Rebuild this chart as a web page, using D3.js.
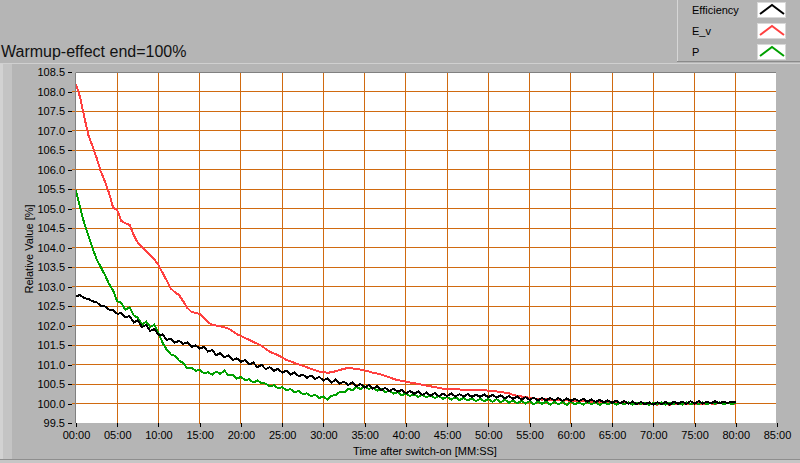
<!doctype html>
<html lang="en">
<head>
<meta charset="utf-8">
<title>Warmup-effect</title>
<script src="https://d3js.org/d3.v7.min.js"></script>
<style>
  body { margin: 0; background: #b5b5b5; }
  svg { display: block; font-family: "Liberation Sans", Arial, sans-serif; }
  .tick text { font-size: 11px; fill: #000; }
</style>
</head>
<body>
<svg class="mainSVG" width="800" height="463"></svg>
<script>
// samples every half minute, 00:00 .. 80:00
var stepMin = 0.5;

var effValues = [
  102.75, 102.78, 102.70, 102.68, 102.62, 102.60, 102.50, 102.49, 102.41, 102.40,
  102.30, 102.32, 102.21, 102.24, 102.08, 102.13, 101.96, 102.01, 101.86, 101.91,
  101.76, 101.77, 101.63, 101.66, 101.56, 101.61, 101.53, 101.57, 101.45, 101.49,
  101.41, 101.45, 101.33, 101.37, 101.24, 101.29, 101.19, 101.23, 101.11, 101.16,
  101.07, 101.11, 101.00, 101.05, 100.93, 100.99, 100.88, 100.93, 100.84, 100.89,
  100.79, 100.84, 100.74, 100.80, 100.70, 100.74, 100.66, 100.72, 100.63, 100.68,
  100.59, 100.65, 100.54, 100.62, 100.51, 100.56, 100.47, 100.54, 100.44, 100.50,
  100.41, 100.47, 100.38, 100.44, 100.34, 100.40, 100.32, 100.38, 100.30, 100.35,
  100.26, 100.32, 100.25, 100.31, 100.22, 100.28, 100.20, 100.27, 100.19, 100.25,
  100.19, 100.26, 100.18, 100.24, 100.18, 100.24, 100.17, 100.23, 100.17, 100.23,
  100.16, 100.22, 100.15, 100.21, 100.13, 100.19, 100.12, 100.18, 100.10, 100.16,
  100.09, 100.15, 100.08, 100.14, 100.08, 100.14, 100.08, 100.14, 100.07, 100.13,
  100.07, 100.12, 100.06, 100.12, 100.05, 100.10, 100.04, 100.09, 100.03, 100.08,
  100.02, 100.07, 100.01, 100.06, 99.99, 100.05, 99.98, 100.04, 99.98, 100.03,
  99.97, 100.03, 99.98, 100.04, 99.97, 100.05, 99.99, 100.05, 99.99, 100.06,
  100.00, 100.06, 100.00, 100.05, 100.00, 100.06, 100.00, 100.05, 100.01, 100.05,
  100.03
];

var evValues = [
  108.18, 107.85, 107.35, 106.88, 106.60, 106.30, 105.95, 105.70, 105.40, 105.02,
  104.96, 104.68, 104.62, 104.58, 104.32, 104.12, 104.02, 103.90, 103.80, 103.70,
  103.55, 103.35, 103.15, 102.95, 102.85, 102.78, 102.62, 102.45, 102.35, 102.32,
  102.30, 102.20, 102.08, 102.02, 102.00, 101.98, 101.95, 101.92, 101.85, 101.78,
  101.73, 101.68, 101.63, 101.58, 101.53, 101.48, 101.40, 101.33, 101.28, 101.24,
  101.18, 101.12, 101.08, 101.04, 101.00, 100.97, 100.93, 100.89, 100.85, 100.82,
  100.80, 100.79, 100.80, 100.83, 100.86, 100.89, 100.91, 100.90, 100.89, 100.87,
  100.85, 100.82, 100.79, 100.77, 100.74, 100.71, 100.67, 100.63, 100.60, 100.58,
  100.56, 100.54, 100.52, 100.50, 100.48, 100.46, 100.44, 100.42, 100.40, 100.38,
  100.37, 100.37, 100.36, 100.36, 100.35, 100.35, 100.35, 100.35, 100.34, 100.34,
  100.33, 100.33, 100.31, 100.29, 100.28, 100.26, 100.22, 100.20, 100.18, 100.16,
  100.15, 100.13, 100.12, 100.10, 100.11, 100.09, 100.08, 100.09, 100.07, 100.08,
  100.07, 100.06, 100.05, 100.06, 100.04, 100.05, 100.03, 100.04, 100.02, 100.03,
  100.02, 100.01, 100.02, 100.00, 100.01, 99.99, 100.00, 99.98, 99.99, 99.98,
  99.98, 99.97, 99.99, 99.98, 99.97, 99.99, 99.98, 100.00, 99.98, 99.99,
  99.99, 100.00, 99.99, 100.01, 100.00, 99.99, 100.01, 100.00, 100.01, 100.00,
  100.00
];

var pValues = [
  105.46, 105.02, 104.62, 104.30, 103.98, 103.70, 103.50, 103.30, 103.07, 102.90,
  102.62, 102.58, 102.40, 102.47, 102.26, 102.20, 102.02, 102.10, 101.96, 102.02,
  101.80, 101.56, 101.38, 101.26, 101.22, 101.10, 101.04, 100.90, 100.92, 100.84,
  100.86, 100.78, 100.80, 100.74, 100.82, 100.76, 100.84, 100.72, 100.74, 100.64,
  100.68, 100.60, 100.62, 100.54, 100.59, 100.52, 100.51, 100.44, 100.47, 100.39,
  100.42, 100.34, 100.37, 100.29, 100.32, 100.24, 100.26, 100.19, 100.22, 100.14,
  100.18, 100.10, 100.20, 100.22, 100.30, 100.28, 100.38, 100.34, 100.42, 100.37,
  100.44, 100.37, 100.41, 100.33, 100.37, 100.29, 100.33, 100.25, 100.29, 100.21,
  100.26, 100.19, 100.24, 100.17, 100.22, 100.16, 100.21, 100.14, 100.19, 100.12,
  100.17, 100.10, 100.16, 100.09, 100.14, 100.08, 100.13, 100.06, 100.12, 100.06,
  100.11, 100.04, 100.11, 100.03, 100.10, 100.02, 100.08, 100.00, 100.07, 100.00,
  100.06, 99.98, 100.05, 99.99, 100.05, 99.97, 100.04, 99.98, 100.04, 99.96,
  100.04, 99.98, 100.03, 99.97, 100.04, 99.98, 100.03, 99.96, 100.03, 99.98,
  100.03, 99.97, 100.02, 99.98, 100.03, 99.97, 100.02, 99.99, 100.02, 99.96,
  100.02, 99.98, 100.03, 99.97, 100.02, 99.99, 100.02, 99.97, 100.03, 99.98,
  100.02, 99.99, 100.03, 99.98, 100.02, 99.99, 100.03, 99.98, 100.02, 99.99,
  100.01
];

var seriesNames = ["Efficiency", "E_v", "P"];
var seriesColors = ["#000000", "#ff4040", "#00a000"];

var xTicks = [0, 5, 10, 15, 20, 25, 30, 35, 40, 45, 50, 55, 60, 65, 70, 75, 80, 85];
var yTicks = [99.5, 100, 100.5, 101, 101.5, 102, 102.5, 103, 103.5, 104, 104.5, 105, 105.5, 106, 106.5, 107, 107.5, 108, 108.5];

var svg = d3.select(".mainSVG");
var plotL = 75, plotR = 776, plotT = 72, plotB = 423;

var xScale = d3.scaleLinear().domain([0, 85]).range([plotL, plotR]);
var yScale = d3.scaleLinear().domain([99.5, 108.5]).range([plotB, plotT]);

// panel frame
svg.append("rect").attr("width", 800).attr("height", 463).attr("fill", "#b5b5b5");
svg.append("rect").attr("x", 0).attr("y", 63).attr("width", 12).attr("height", 397).attr("fill", "#c4c4c4");
svg.append("rect").attr("x", 0).attr("y", 63).attr("width", 3).attr("height", 397).attr("fill", "#d2d2d2");
svg.append("line").attr("x1", 0).attr("x2", 800).attr("y1", 63.5).attr("y2", 63.5).attr("stroke", "#d0d0d0");
svg.append("line").attr("x1", 0).attr("x2", 800).attr("y1", 459.5).attr("y2", 459.5).attr("stroke", "#8e8e8e");
svg.append("rect").attr("x", 0).attr("y", 460).attr("width", 800).attr("height", 3).attr("fill", "#c6c6c6");

// title
svg.append("text").attr("x", 1).attr("y", 57).attr("font-size", "16px").attr("fill", "#111").text("Warmup-effect end=100%");

// plot area
svg.append("rect").attr("x", plotL).attr("y", plotT).attr("width", plotR - plotL).attr("height", plotB - plotT).attr("fill", "#fff");

var grid = svg.append("g").attr("stroke", "#d06a10").attr("stroke-width", 1).attr("shape-rendering", "crispEdges");
grid.selectAll(".hg").data(yTicks.slice(1, -1)).enter().append("line")
  .attr("x1", 72).attr("x2", plotR).attr("y1", function(d) { return yScale(d); }).attr("y2", function(d) { return yScale(d); });
grid.selectAll(".vg").data(xTicks.slice(1, -1)).enter().append("line")
  .attr("y1", plotT).attr("y2", plotB + 1).attr("x1", function(d) { return xScale(d) + 1; }).attr("x2", function(d) { return xScale(d) + 1; });

svg.append("path").attr("d", "M" + (plotL + 0.5) + "," + plotB + "V" + (plotT + 0.5) + "H" + plotR)
  .attr("fill", "none").attr("stroke", "#808080");

// axes
var yAxis = svg.append("g").attr("transform", "translate(72,0)")
  .call(d3.axisLeft(yScale).tickValues(yTicks).tickFormat(d3.format(".1f")).tickSize(4).tickPadding(3));
yAxis.select(".domain").remove();
yAxis.selectAll(".tick line").attr("stroke", "#000").attr("shape-rendering", "crispEdges");

var xAxis = svg.append("g").attr("transform", "translate(1," + plotB + ")")
  .call(d3.axisBottom(xScale).tickValues(xTicks).tickSize(4).tickPadding(4)
    .tickFormat(function(d) { return (d < 10 ? "0" : "") + d + ":00"; }));
xAxis.select(".domain").remove();
xAxis.selectAll(".tick line").attr("stroke", "#000").attr("shape-rendering", "crispEdges");

svg.append("text").attr("x", 425).attr("y", 455).attr("text-anchor", "middle").attr("font-size", "11px")
  .text("Time after switch-on [MM:SS]");
svg.append("text").attr("transform", "translate(33,249) rotate(-90)").attr("text-anchor", "middle").attr("font-size", "11px")
  .text("Relative Value [%]");

// series, black drawn last like the original
svg.append("clipPath").attr("id", "plotclip").append("rect")
  .attr("x", plotL + 1).attr("y", plotT + 1).attr("width", plotR - plotL - 1).attr("height", plotB - plotT - 1);
var line = d3.line()
  .x(function(d, i) { return xScale(i * stepMin) + 1; })
  .y(function(d) { return yScale(d); });
var plotG = svg.append("g").attr("clip-path", "url(#plotclip)");
[[evValues, 1], [pValues, 2], [effValues, 0]].forEach(function(s) {
  plotG.append("path").datum(s[0]).attr("d", line)
    .attr("fill", "none").attr("stroke", seriesColors[s[1]]).attr("stroke-width", 2)
    .attr("stroke-linejoin", "miter").attr("shape-rendering", "crispEdges");
});

// legend
var leg = svg.append("g");
leg.append("rect").attr("x", 677).attr("y", 0).attr("width", 123).attr("height", 62).attr("fill", "#b5b5b5");
leg.append("line").attr("x1", 677.5).attr("x2", 677.5).attr("y1", 0).attr("y2", 61).attr("stroke", "#d6d6d6");
leg.append("line").attr("x1", 677).attr("x2", 800).attr("y1", 61.5).attr("y2", 61.5).attr("stroke", "#8a8a8a");
seriesNames.forEach(function(name, i) {
  var y0 = i * 21;
  leg.append("text").attr("x", 692).attr("y", y0 + 14).attr("font-size", "11px").text(name);
  leg.append("rect").attr("x", 757.5).attr("y", y0 + 2.5).attr("width", 28).attr("height", 15)
    .attr("fill", "#fff").attr("stroke", "#d8d8d8");
  leg.append("path").attr("d", "M760," + (y0 + 14) + "L772," + (y0 + 5) + "L784," + (y0 + 14))
    .attr("fill", "none").attr("stroke", seriesColors[i]).attr("stroke-width", 2);
});
</script>
</body>
</html>
